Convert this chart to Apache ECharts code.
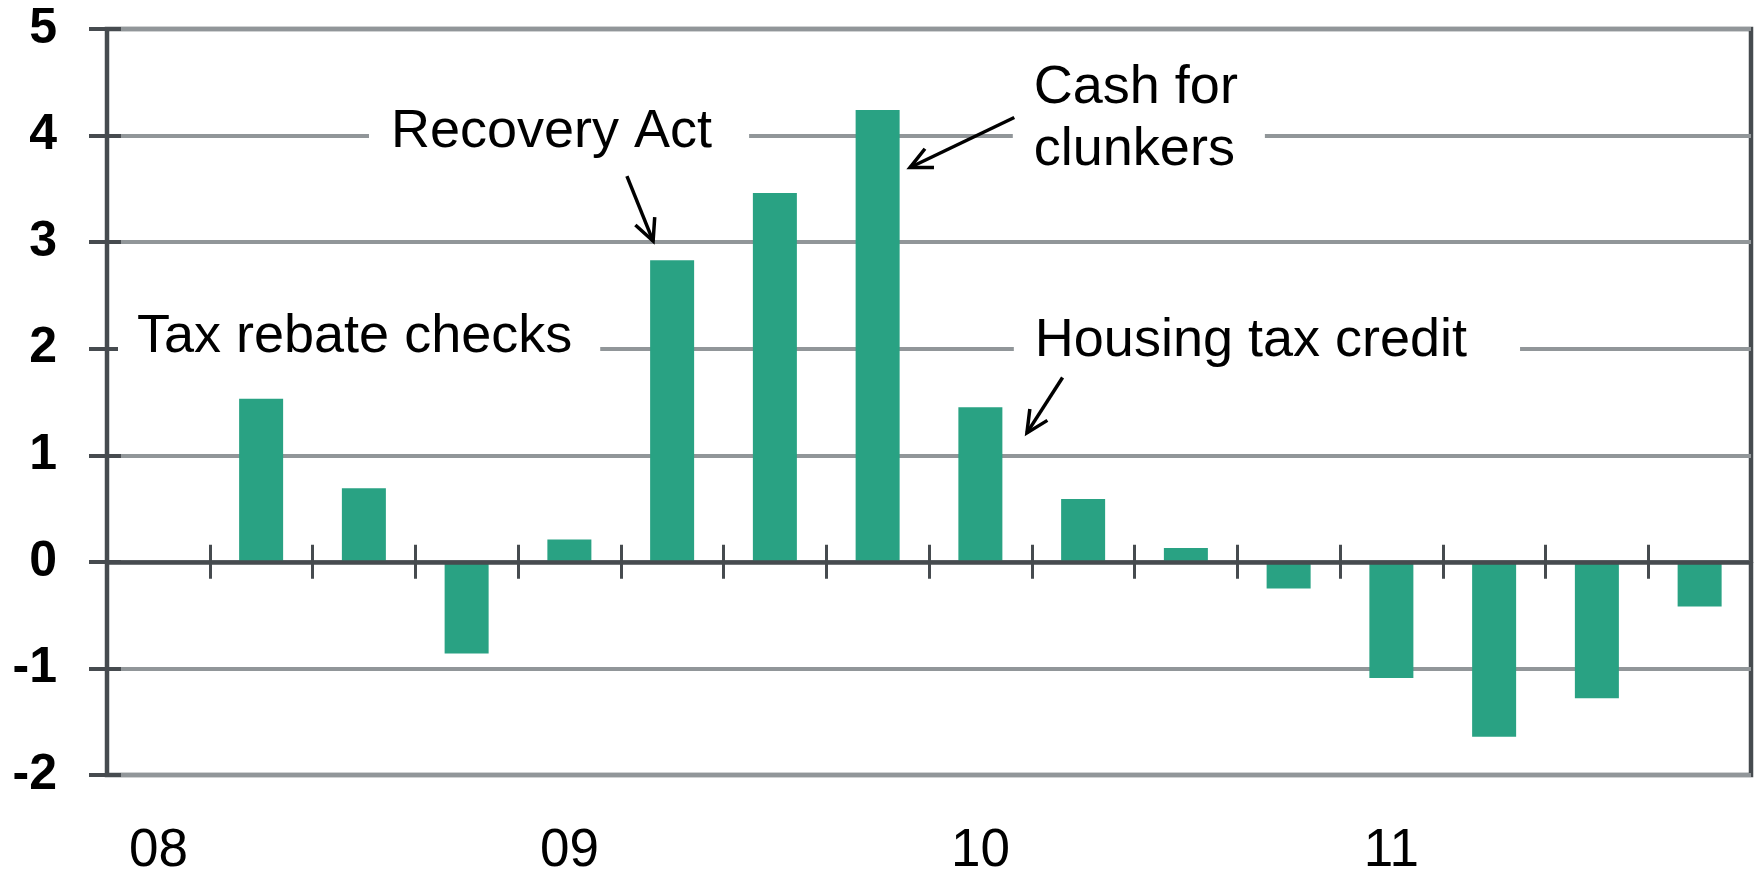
<!DOCTYPE html>
<html>
<head>
<meta charset="utf-8">
<script src="https://cdn.jsdelivr.net/npm/echarts@6/dist/echarts.min.js"></script>
<style>
html, body { margin: 0; padding: 0; background: #fff; }
#eChart { width: 1758px; height: 878px; }
</style>
</head>
<body>
<div id="eChart"></div>
<script>
// quarterly data, 2008Q1 - 2011Q4
var quarters = ['2008Q1', '2008Q2', '2008Q3', '2008Q4',
                '2009Q1', '2009Q2', '2009Q3', '2009Q4',
                '2010Q1', '2010Q2', '2010Q3', '2010Q4',
                '2011Q1', '2011Q2', '2011Q3', '2011Q4'];
var yearLabels = ['08', '09', '10', '11'];
var values = ['-', 1.53, 0.69, -0.86, 0.21, 2.83, 3.46, 4.24, 1.45, 0.59, 0.13, -0.25, -1.09, -1.64, -1.28, -0.42];

// annotations, placed in data space (band offset from first quarter, value)
var notes = [
  { text: 'Tax rebate checks', at: [-0.208, 2.11], padL: 19, padR: 28 },
  { text: 'Recovery Act', at: [2.264, 4.03], padL: 22, padR: 37 },
  { text: 'Cash for\nclunkers', at: [8.52, 4.157], padL: 21, padR: 27 },
  { text: 'Housing tax credit', at: [8.53, 2.076], padL: 21, padR: 53 }
];
var arrows = [
  { from: [4.56, 3.62], to: [4.815, 3.01] },
  { from: [8.33, 4.17], to: [7.315, 3.70] },
  { from: [8.80, 1.73], to: [8.453, 1.21] }
];

var dark = '#464b4f';
var gray = '#919699';
var font = '"Liberation Sans", Arial, sans-serif';

var chart = echarts.init(document.getElementById('eChart'));
var option = {
  animation: false,
  grid: {
    left: 107, right: 7, top: 29, bottom: 102,
    show: true, borderColor: dark, borderWidth: 4.5
  },
  xAxis: [
    {
      type: 'category', data: quarters, position: 'bottom',
      axisLine: { show: false, onZero: false },
      axisTick: { show: false },
      axisLabel: {
        interval: 0, margin: 50, color: '#000', fontSize: 53, fontFamily: font,
        formatter: function (v, i) { return i % 4 === 0 ? yearLabels[i / 4] : ''; }
      },
      splitLine: { show: false }
    },
    {
      type: 'category', data: quarters, position: 'top', z: 5,
      axisLine: { show: true, onZero: true, onZeroAxisIndex: 0, lineStyle: { color: dark, width: 4.5 } },
      axisTick: { show: true, inside: false, length: 17, lineStyle: { color: dark, width: 3 } },
      axisLabel: { show: false },
      splitLine: { show: false }
    },
    {
      type: 'category', data: quarters, position: 'top', z: 5,
      axisLine: { show: false, onZero: true, onZeroAxisIndex: 0 },
      axisTick: { show: true, inside: true, length: 17, lineStyle: { color: dark, width: 3 } },
      axisLabel: { show: false },
      splitLine: { show: false }
    }
  ],
  yAxis: [
    {
      type: 'value', min: -2, max: 5, interval: 1, position: 'left',
      axisLine: { show: true, lineStyle: { color: dark, width: 3.5 } },
      axisTick: { show: true, length: 18, lineStyle: { color: dark, width: 4 } },
      axisLabel: { margin: 50, color: '#000', fontSize: 50, fontWeight: 'bold', fontFamily: font },
      splitLine: { show: true, lineStyle: { color: gray, width: 4 } }
    },
    {
      type: 'value', min: -2, max: 5, interval: 1, position: 'right', offset: -1644, z: 5,
      axisLine: { show: false },
      axisTick: { show: true, length: 14, lineStyle: { color: dark, width: 4 } },
      axisLabel: { show: false },
      splitLine: { show: false }
    }
  ],
  series: [
    {
      type: 'bar', xAxisIndex: 0, yAxisIndex: 0,
      data: values, barWidth: 44,
      itemStyle: { color: '#29a283' }
    }
  ]
};
chart.setOption(option);

// annotation layout from the chart's own scales
var c0 = chart.convertToPixel({ xAxisIndex: 0 }, quarters[0]);
var band = chart.convertToPixel({ xAxisIndex: 0 }, quarters[1]) - c0;
function toPx(p) {
  return [c0 + p[0] * band, chart.convertToPixel({ yAxisIndex: 0 }, p[1])];
}

var graphics = [];
notes.forEach(function (n) {
  var p = toPx(n.at);
  graphics.push({
    type: 'text', x: p[0] - n.padL, y: p[1], z: 10,
    style: {
      text: n.text, font: '54px ' + font, fill: '#000',
      backgroundColor: '#fff', padding: [2, n.padR, 2, n.padL],
      align: 'left', verticalAlign: 'middle', lineHeight: 62
    }
  });
});
arrows.forEach(function (a) {
  var s = toPx(a.from), t = toPx(a.to);
  var dx = t[0] - s[0], dy = t[1] - s[1];
  var len = Math.sqrt(dx * dx + dy * dy);
  var ux = dx / len, uy = dy / len;
  var L = 24, ang = 0.45;
  var c = Math.cos(ang), sn = Math.sin(ang);
  var h1 = [t[0] - L * (ux * c - uy * sn), t[1] - L * (uy * c + ux * sn)];
  var h2 = [t[0] - L * (ux * c + uy * sn), t[1] - L * (uy * c - ux * sn)];
  graphics.push({ type: 'polyline', z: 10, shape: { points: [s, t] }, style: { stroke: '#000', lineWidth: 3.5, fill: null } });
  graphics.push({ type: 'polyline', z: 10, shape: { points: [h1, t, h2] }, style: { stroke: '#000', lineWidth: 3.5, fill: null } });
});
chart.setOption({ graphic: graphics });
</script>
</body>
</html>
